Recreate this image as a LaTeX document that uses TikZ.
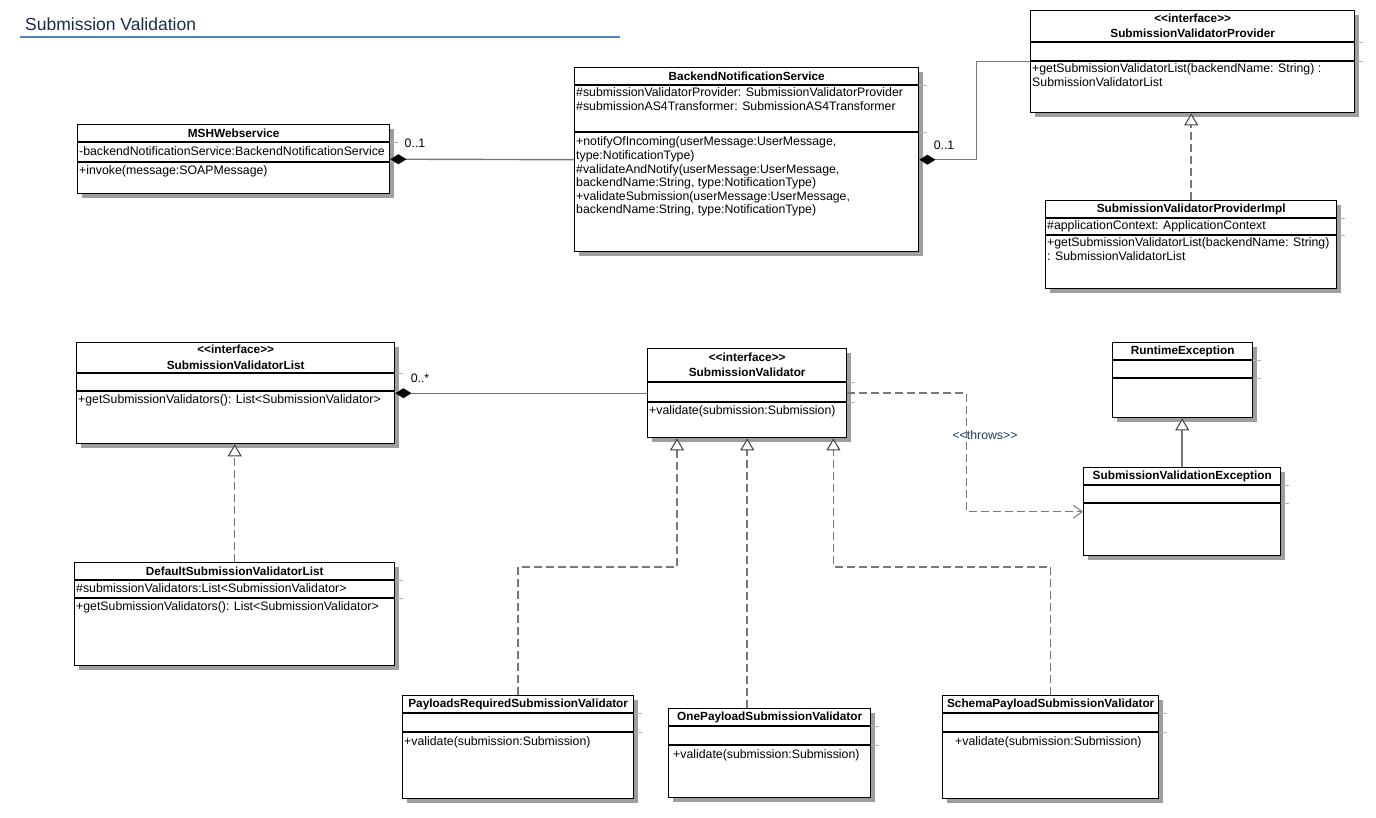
\documentclass[tikz,border=0pt]{standalone}
\usepackage{fontspec}
\setmainfont{Liberation Sans}
\usepackage{xcolor}
\usepackage{tikz}
\usetikzlibrary{arrows.meta}
\usetikzlibrary{shadows}

\definecolor{linegray}{HTML}{777777}
\definecolor{headblue}{HTML}{4F81BD}
\definecolor{headtext}{HTML}{1B2A49}
\definecolor{throwsblue}{HTML}{1F3864}

% separator of a class box, with the light stub over the shadow
\newcommand{\classsep}[2]{%
	\draw[sepline] ([yshift=-#2]#1.north west) -- ([yshift=-#2]#1.north east);
	\draw[sepstub] ([yshift=-#2]#1.north east) -- ++(8,0);}
% member lines, baseline on the first line
\newcommand{\memberlines}[1]{\begin{tabular}[t]{@{}l@{}}#1\end{tabular}}

\begin{document}
\begin{tikzpicture}[x=1pt,y=-1pt,
	classbox/.style={draw=black, line width=1.4pt, fill=white, inner sep=0pt, anchor=north west,
		drop shadow={shadow xshift=4pt, shadow yshift=-4pt, fill=black!38, opacity=1}},
	sepline/.style={black, line width=1.4pt},
	sepstub/.style={black!30, line width=0.8pt},
	classname/.style={font=\fontsize{11.8pt}{15.5pt}\selectfont\bfseries, align=center, inner sep=0pt},
	member/.style={font=\fontsize{12.3pt}{13.6pt}\selectfont, inner sep=0pt, anchor=base west},
	mult/.style={font=\fontsize{12.3pt}{14pt}\selectfont, inner sep=0pt},
	compline/.style={draw=linegray, line width=1.4pt, {Diamond[length=16pt,width=10pt,color=black]}-},
	realize/.style={draw=linegray, line width=1.5pt, dash pattern=on 8pt off 4pt,
		-{Triangle[open,length=12pt,width=14pt,line width=1pt,color=black!75,fill=white]}},
	generalize/.style={draw=linegray, line width=1.5pt,
		-{Triangle[open,length=12pt,width=14pt,line width=1pt,color=black!75,fill=white]}},
	depend/.style={draw=linegray, line width=1.5pt, dash pattern=on 8pt off 4pt,
		-{Straight Barb[length=9pt,width=13pt,line width=1pt]}}]
	\useasboundingbox (0,0) rectangle (1376,818);

	%% heading
	\node[anchor=base west, inner sep=0pt, text=headtext, font=\fontsize{17.5pt}{20pt}\selectfont] (head) at (25,31) {Submission Validation};
	\coordinate (headl) at (20,37);
	\coordinate (headr) at (620,37);
	\draw[headblue, line width=2.5pt] (headl) -- (headr);

	%% MSHWebservice
	\node[classbox, minimum width=312pt, minimum height=69pt] (msh) at (77,124) {};
	\classsep{msh}{18pt}
	\classsep{msh}{38pt}
	\node[classname] at ([yshift=-9pt]msh.north) {MSHWebservice};
	\node[member] at ([shift={(2pt,-32pt)}]msh.north west) {-backendNotificationService:BackendNotificationService};
	\node[member] at ([shift={(2pt,-51pt)}]msh.north west) {+invoke(message:SOAPMessage)};

	%% BackendNotificationService
	\node[classbox, minimum width=344pt, minimum height=184pt] (backend) at (574,67) {};
	\classsep{backend}{18pt}
	\classsep{backend}{65pt}
	\node[classname] at ([yshift=-9pt]backend.north) {BackendNotificationService};
	\node[member] at ([shift={(2pt,-30pt)}]backend.north west) {\memberlines{\#submissionValidatorProvider: SubmissionValidatorProvider\\\#submissionAS4Transformer: SubmissionAS4Transformer}};
	\node[member] at ([shift={(2pt,-79pt)}]backend.north west) {\memberlines{+notifyOfIncoming(userMessage:UserMessage,\\type:NotificationType)\\\#validateAndNotify(userMessage:UserMessage,\\backendName:String, type:NotificationType)\\+validateSubmission(userMessage:UserMessage,\\backendName:String, type:NotificationType)}};

	%% SubmissionValidatorProvider
	\node[classbox, minimum width=324pt, minimum height=102pt] (provider) at (1030,10) {};
	\classsep{provider}{32pt}
	\classsep{provider}{51pt}
	\node[classname] at ([yshift=-16pt]provider.north) {<{}<interface>{}>\\SubmissionValidatorProvider};
	\node[member] at ([shift={(2pt,-63pt)}]provider.north west) {\memberlines{+getSubmissionValidatorList(backendName: String) :\\SubmissionValidatorList}};

	%% SubmissionValidatorProviderImpl
	\node[classbox, minimum width=291pt, minimum height=88pt] (impl) at (1045,200) {};
	\classsep{impl}{18pt}
	\classsep{impl}{35pt}
	\node[classname] at ([yshift=-9pt]impl.north) {SubmissionValidatorProviderImpl};
	\node[member] at ([shift={(2pt,-30pt)}]impl.north west) {\#applicationContext: ApplicationContext};
	\node[member] at ([shift={(2pt,-47pt)}]impl.north west) {\memberlines{+getSubmissionValidatorList(backendName: String)\\: SubmissionValidatorList}};

	%% SubmissionValidatorList
	\node[classbox, minimum width=318pt, minimum height=101pt] (svlist) at (76,342) {};
	\classsep{svlist}{31pt}
	\classsep{svlist}{49pt}
	\node[classname] at ([yshift=-15.5pt]svlist.north) {<{}<interface>{}>\\SubmissionValidatorList};
	\node[member] at ([shift={(2pt,-61pt)}]svlist.north west) {+getSubmissionValidators(): List<SubmissionValidator>};

	%% SubmissionValidator
	\node[classbox, minimum width=199pt, minimum height=89pt] (sv) at (647,348) {};
	\classsep{sv}{34pt}
	\classsep{sv}{54pt}
	\node[classname] at ([yshift=-17pt]sv.north) {<{}<interface>{}>\\SubmissionValidator};
	\node[member] at ([shift={(2pt,-66pt)}]sv.north west) {+validate(submission:Submission)};

	%% RuntimeException
	\node[classbox, minimum width=140pt, minimum height=75pt] (runtime) at (1112,342) {};
	\classsep{runtime}{18pt}
	\classsep{runtime}{36pt}
	\node[classname] at ([yshift=-9pt]runtime.north) {RuntimeException};

	%% SubmissionValidationException
	\node[classbox, minimum width=197pt, minimum height=88pt] (sve) at (1083,467) {};
	\classsep{sve}{18pt}
	\classsep{sve}{36pt}
	\node[classname] at ([yshift=-9pt]sve.north) {SubmissionValidationException};

	%% DefaultSubmissionValidatorList
	\node[classbox, minimum width=320pt, minimum height=103pt] (default) at (74,562) {};
	\classsep{default}{18pt}
	\classsep{default}{36pt}
	\node[classname] at ([yshift=-9pt]default.north) {DefaultSubmissionValidatorList};
	\node[member] at ([shift={(2pt,-30pt)}]default.north west) {\#submissionValidators:List<SubmissionValidator>};
	\node[member] at ([shift={(2pt,-48pt)}]default.north west) {+getSubmissionValidators(): List<SubmissionValidator>};

	%% PayloadsRequiredSubmissionValidator
	\node[classbox, minimum width=231pt, minimum height=103pt] (payloads) at (402,695) {};
	\classsep{payloads}{18pt}
	\classsep{payloads}{37pt}
	\node[classname] at ([yshift=-9pt]payloads.north) {PayloadsRequiredSubmissionValidator};
	\node[member] at ([shift={(2pt,-50pt)}]payloads.north west) {+validate(submission:Submission)};

	%% OnePayloadSubmissionValidator
	\node[classbox, minimum width=202pt, minimum height=89pt] (onepayload) at (668,708) {};
	\classsep{onepayload}{18pt}
	\classsep{onepayload}{37pt}
	\node[classname] at ([yshift=-9pt]onepayload.north) {OnePayloadSubmissionValidator};
	\node[member] at ([shift={(5pt,-50pt)}]onepayload.north west) {+validate(submission:Submission)};

	%% SchemaPayloadSubmissionValidator
	\node[classbox, minimum width=216pt, minimum height=103pt] (schema) at (942,695) {};
	\classsep{schema}{18pt}
	\classsep{schema}{37pt}
	\node[classname] at ([yshift=-9pt]schema.north) {SchemaPayloadSubmissionValidator};
	\node[member] at ([shift={(13pt,-50pt)}]schema.north west) {+validate(submission:Submission)};

	%% compositions
	\draw[compline] (msh.east) -- (backend.west);
	\node[mult] (m1) at (415,143) {0..1};
	\draw[compline] (backend.east) -- ++(57,0) |- (provider.west);
	\node[mult] (m2) at (944,145) {0..1};
	\draw[compline] (svlist.east) -- (sv.west);
	\node[mult] (m3) at (420,378) {0..*};

	%% realizations
	\draw[realize] (impl.north) -- (impl.north |- provider.south);
	\draw[realize] (default.north) -- (default.north |- svlist.south);
	\draw[realize] (payloads.north) -- ++(0,-128) -| ([xshift=30pt]sv.south west);
	\draw[realize] (sv.south |- onepayload.north) -- (sv.south);
	\draw[realize] (schema.north) -- ++(0,-128) -| ([xshift=-14pt]sv.south east);

	%% exception
	\draw[generalize] (sve.north) -- (sve.north |- runtime.south);
	\draw[depend] (sv.east) -- ++(119,0) |- (sve.west);
	\node[mult, text=throwsblue] (throws) at (985,435) {<{}<throws>{}>};
\end{tikzpicture}
\end{document}
